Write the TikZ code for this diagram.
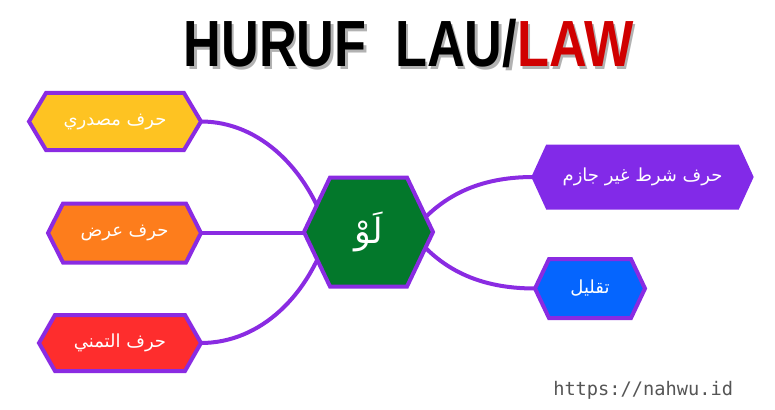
\documentclass[tikz,border=0pt]{standalone}
\usepackage{fontspec}
\setmainfont{DejaVu Sans}
\newfontfamily\arabicfont[Script=Arabic]{DejaVu Sans}
\newfontfamily\titlefont{Liberation Sans}
\newfontfamily\urlfont{DejaVu Sans Mono}
\TeXXeTstate=1
\usetikzlibrary{backgrounds}
\definecolor{bordpurple}{HTML}{8A2BE2}
\definecolor{fillpurple}{HTML}{822AE8}
\definecolor{yel}{HTML}{FEC322}
\definecolor{ora}{HTML}{FD7D1C}
\definecolor{redf}{HTML}{FE2D2D}
\definecolor{grn}{HTML}{03782B}
\definecolor{blu}{HTML}{0565FE}
\definecolor{lawred}{HTML}{D00000}
\definecolor{urlgray}{HTML}{555555}
\newcommand\hexpath[6]{% cx cy hw hh d style
  \path[#6] ({#1-#3},#2) -- ({#1-#3+#5},{#2-#4}) -- ({#1+#3-#5},{#2-#4})
    -- ({#1+#3},#2) -- ({#1+#3-#5},{#2+#4}) -- ({#1-#3+#5},{#2+#4}) -- cycle;}
\newcommand\titletext[2]{{\titlefont\bfseries\fontsize{49}{49}\selectfont
  \scalebox{0.8}[1]{\textcolor{#1}{HURUF\hspace{0.55em}LAU/}\textcolor{#2}{LAW}}}}
\begin{document}
\begin{tikzpicture}[x=0.75pt,y=-0.75pt,
  hexbox/.style={line width=3pt,line join=miter,draw=bordpurple},
  conn/.style={line width=3pt,draw=bordpurple},
  lbl/.style={text=white,font=\arabicfont\fontsize{13.5}{15}\selectfont,inner sep=0pt}]
\useasboundingbox (0,0) rectangle (775,410);
% title
\node[anchor=base,inner sep=0pt] (titleshadow) at (411,69.5) {\titletext{black!30}{black!30}};
\node[anchor=base,inner sep=0pt] (title) at (408.5,67) {\titletext{black}{lawred}};
% hexagons
\hexpath{115}{121.5}{86}{28.5}{17}{hexbox,fill=yel}
\hexpath{124.5}{233}{76.5}{29.5}{15}{hexbox,fill=ora}
\hexpath{120}{343}{81}{28}{16}{hexbox,fill=redf}
\hexpath{368.5}{232}{64.5}{54.5}{26}{hexbox,fill=grn}
\hexpath{642.5}{177}{109}{30.5}{14}{line width=3pt,line join=miter,draw=fillpurple,fill=fillpurple}
\hexpath{590}{288.5}{55}{29.5}{14}{hexbox,fill=blu}
% named anchors
\coordinate (yel-e) at (201,121.5);
\coordinate (ora-e) at (201,233);
\coordinate (red-e) at (201,343);
\coordinate (pur-w) at (533.5,177);
\coordinate (blu-w) at (535,288.5);
\coordinate (ctr-c) at (368.5,233);
\coordinate (ctr-ul) at (330,240);
\coordinate (ctr-ll) at (330,226);
\coordinate (ctr-ur) at (410,235);
\coordinate (ctr-lr) at (410,230);
% labels
\node[lbl] (masdari) at (115,121.5) {\beginR حرف مصدري\endR};
\node[lbl] (ard) at (124.5,233) {\beginR حرف عرض\endR};
\node[lbl] (tamanni) at (120,343) {\beginR حرف التمني\endR};
\node[lbl] (ctr) at (368.5,232) {\fontsize{26}{28}\selectfont\beginR لَوْ\endR};
\node[lbl] (syarat) at (642.5,177) {\beginR حرف شرط غير جازم\endR};
\node[lbl] (taqlil) at (590,288.5) {\beginR تقليل\endR};
% connectors
\begin{scope}[on background layer]
\draw[conn] (yel-e) .. controls (260,121.5) and (310,170) .. (ctr-ul);
\draw[conn] (ora-e) -- (ctr-c);
\draw[conn] (red-e) .. controls (260,343) and (310,296) .. (ctr-ll);
\draw[conn] (pur-w) .. controls (480,177) and (440,195) .. (ctr-ur);
\draw[conn] (blu-w) .. controls (480,288.5) and (440,270) .. (ctr-lr);
\end{scope}
% url
\node[anchor=base west,inner sep=0pt,text=urlgray,font=\urlfont\fontsize{14}{16}\selectfont] (url) at (553,395) {https://nahwu.id};
\end{tikzpicture}
\end{document}
